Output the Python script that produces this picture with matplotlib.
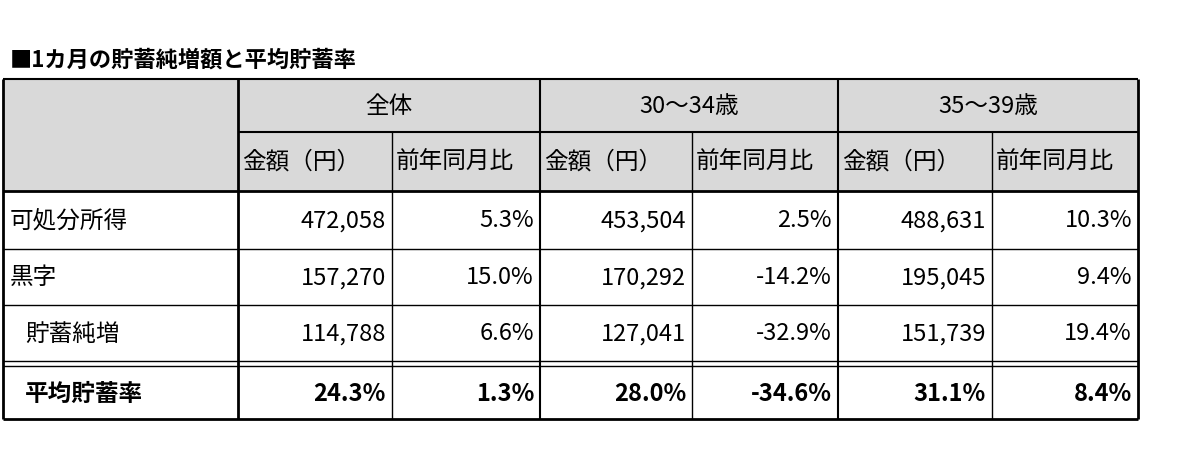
import matplotlib
matplotlib.use("Agg")
import matplotlib.pyplot as plt

plt.rcParams['font.family'] = ['Noto Sans CJK JP', 'DejaVu Sans']

title = "■1カ月の貯蓄純増額と平均貯蓄率"
groups = ["全体", "30～34歳", "35～39歳"]
subheads = ["金額（円）", "前年同月比"]
row_labels = ["可処分所得", "黒字", "貯蓄純増", "平均貯蓄率"]
amounts = [["472,058", "453,504", "488,631"],
           ["157,270", "170,292", "195,045"],
           ["114,788", "127,041", "151,739"],
           ["24.3%", "28.0%", "31.1%"]]
yoy = [["5.3%", "2.5%", "10.3%"],
       ["15.0%", "-14.2%", "9.4%"],
       ["6.6%", "-32.9%", "19.4%"],
       ["1.3%", "-34.6%", "8.4%"]]

fig = plt.figure(figsize=(12, 4.6), dpi=100)
ax = fig.add_axes([0, 0, 1, 1])
ax.set_xlim(0, 1200); ax.set_ylim(460, 0); ax.axis('off')

xs = [3, 238, 392, 540, 692, 838, 992, 1138]
y_top, y_h1, y_h2 = 80, 133, 192
row_y = [192, 250, 306, 362, 420]
fs = 17
gray = '#d9d9d9'

ax.text(10, 60, title, fontsize=16, fontweight='bold', va='center', ha='left')
ax.add_patch(plt.Rectangle((xs[0], y_top), xs[-1]-xs[0], y_h2-y_top, color=gray, lw=0))

def hl(y, x0=xs[0], x1=xs[-1], lw=1.5):
    ax.plot([x0, x1], [y, y], color='black', lw=lw, solid_capstyle='butt')
def vl(x, y0, y1, lw=1.5):
    ax.plot([x, x], [y0, y1], color='black', lw=lw, solid_capstyle='butt')

hl(y_top); hl(y_h1, xs[1], xs[-1]); hl(y_h2, lw=2)
for y in row_y[1:3]:
    hl(y, lw=1)
hl(362, lw=1); hl(367, lw=1); hl(420, lw=2)
for i, x in enumerate(xs):
    if i in (0, 1, 3, 5, 7):
        vl(x, y_top, 420, lw=2 if i in (0, 1, 7) else 1.5)
    else:
        vl(x, y_h1, 420, lw=1)

for g, name in enumerate(groups):
    cx = (xs[1+2*g] + xs[3+2*g]) / 2
    ax.text(cx, (y_top+y_h1)/2, name, fontsize=fs, ha='center', va='center')
    for k, sh in enumerate(subheads):
        ax.text(xs[1+2*g+k] + 4, (y_h1+y_h2)/2, sh, fontsize=fs, ha='left', va='center')

for r, lab in enumerate(row_labels):
    yc = (row_y[r] + row_y[r+1]) / 2 + (3 if r == 3 else 0)
    bold = 'bold' if r == 3 else 'normal'
    lx = 10 if r < 2 else 25
    ax.text(lx, yc, lab, fontsize=fs, ha='left', va='center', fontweight=bold)
    for g in range(3):
        ax.text(xs[2+2*g] - 6, yc, amounts[r][g], fontsize=fs, ha='right', va='center', fontweight=bold)
        ax.text(xs[3+2*g] - 6, yc, yoy[r][g], fontsize=fs, ha='right', va='center', fontweight=bold)

fig.savefig("out.png", dpi=100, facecolor='white')
